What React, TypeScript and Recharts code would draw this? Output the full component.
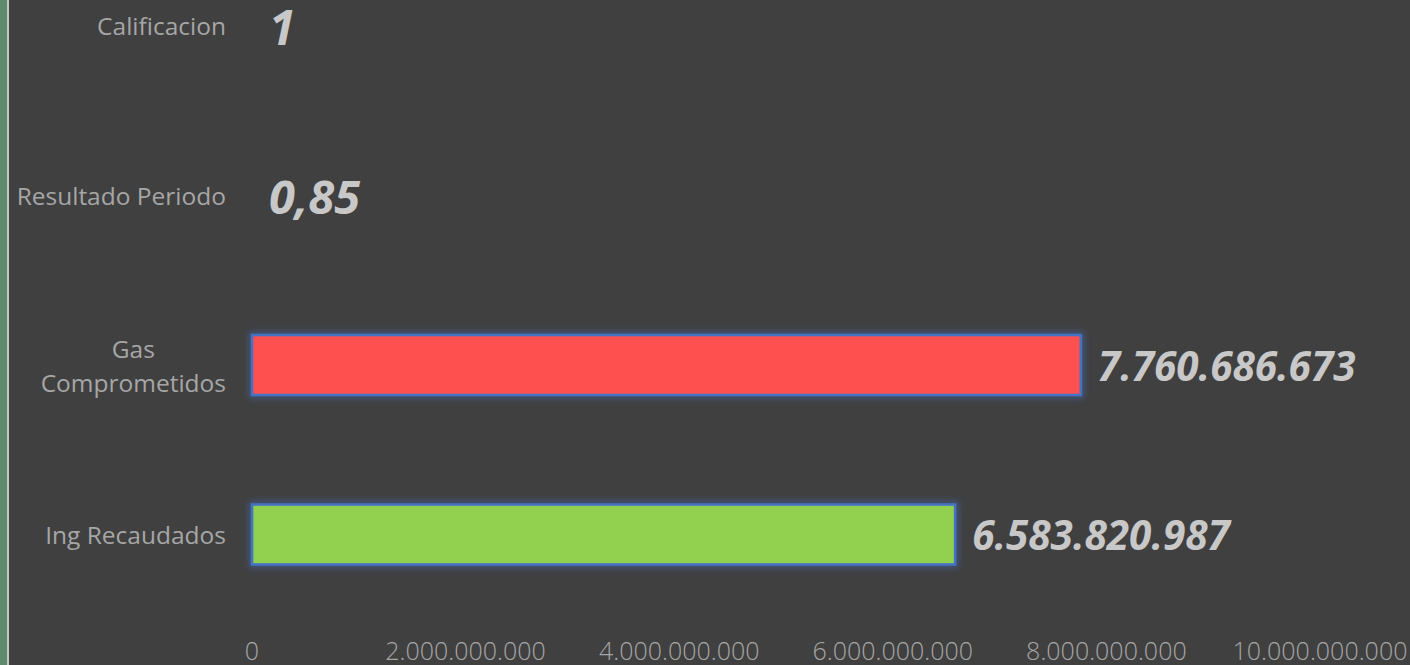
import { Bar, BarChart, Cell, LabelList, XAxis, YAxis } from "recharts";

const categories = [
  "Calificacion",
  "Resultado Periodo",
  "Gas Comprometidos",
  "Ing Recaudados",
];
const values = [1, 0.85, 7760686673, 6583820987];
const barColors = ["#FF5050", "#FF5050", "#FF5050", "#92D050"];
const labelSizes = [48, 47, 40.5, 40.5];
const xTicks = [0, 2000000000, 4000000000, 6000000000, 8000000000, 10000000000];

const data = categories.map((name, i) => ({ name, value: values[i] }));

const FONT = "'Open Sans', 'Noto Sans', sans-serif";

// excel style: 7.760.686.673 / 0,85
function fmt(v: number) {
  if (Number.isInteger(v)) {
    return String(v).replace(/\B(?=(\d{3})+(?!\d))/g, ".");
  }
  return String(v).replace(".", ",");
}

let ctx: CanvasRenderingContext2D | null = null;
function textWidth(s: string, font: string) {
  if (!ctx) ctx = document.createElement("canvas").getContext("2d");
  if (!ctx) return s.length * 12;
  ctx.font = font;
  return ctx.measureText(s).width;
}

function CategoryTick(props: any) {
  const { x, y, payload } = props;
  const font = "24.5px 'Open Sans'";
  const label: string = payload.value;
  let lines = [label];
  if (textWidth(label, font) > 220) {
    // wrap like excel does
    const words = label.split(" ");
    lines = [];
    let cur = "";
    words.forEach((w) => {
      const next = cur ? cur + " " + w : w;
      if (cur && textWidth(next, font) > 220) {
        lines.push(cur);
        cur = w;
      } else cur = next;
    });
    if (cur) lines.push(cur);
  }
  if (lines.length === 1) {
    return (
      <text x={x} y={y} textAnchor="end" dominantBaseline="central" fill="#a6a6a6" fontSize={24.5} fontFamily={FONT}>
        {label}
      </text>
    );
  }
  const maxW = Math.max(...lines.map((l) => textWidth(l, font)));
  const lh = 34;
  const top = y - ((lines.length - 1) * lh) / 2;
  return (
    <text textAnchor="middle" dominantBaseline="central" fill="#a6a6a6" fontSize={24.5} fontFamily={FONT}>
      {lines.map((l, i) => (
        <tspan key={i} x={x - maxW / 2} y={top + i * lh}>
          {l}
        </tspan>
      ))}
    </text>
  );
}

function GlowBar(props: any) {
  const { x, y, width, height, fill } = props;
  if (!width || width < 1) return <g />;
  return (
    <g>
      <rect x={x} y={y} width={width} height={height} fill="none" stroke="#4472C4" strokeWidth={7} strokeOpacity={0.45} filter="url(#barGlow)" />
      <rect x={x} y={y} width={width} height={height} fill={fill} stroke="#4472C4" strokeWidth={2.6} />
    </g>
  );
}

function ValueLabel(props: any) {
  const { x, y, width, height, value, index } = props;
  return (
    <text
      x={x + width + 17}
      y={y + height / 2}
      dominantBaseline="central"
      fill="#c8c8c8"
      fontSize={labelSizes[index]}
      fontWeight={700}
      fontStyle="italic"
      fontFamily={FONT}
    >
      {fmt(value)}
    </text>
  );
}

export default function App() {
  return (
    <div
      style={{
        position: "absolute",
        left: 0,
        top: 0,
        width: 1410,
        height: 665,
        overflow: "hidden",
        background: "#404040",
      }}
    >
      <div style={{ position: "absolute", left: 0, top: 0, width: 7, height: 665, background: "#5e8a6c" }} />
      <div style={{ position: "absolute", left: 7, top: 0, width: 2, height: 665, background: "#c4c4c4" }} />
      <div style={{ position: "absolute", left: 0, top: -59 }}>
        <BarChart
          width={1410}
          height={738}
          data={data}
          layout="vertical"
          margin={{ top: 0, right: 90, bottom: 0, left: 0 }}
          barSize={60}
        >
          <defs>
            <filter id="barGlow" x="-20%" y="-50%" width="140%" height="200%">
              <feGaussianBlur stdDeviation="3" />
            </filter>
          </defs>
          <XAxis
            type="number"
            domain={[0, 10000000000]}
            ticks={xTicks}
            interval={0}
            height={60}
            axisLine={false}
            tickLine={false}
            tickSize={0}
            tickMargin={23}
            tickFormatter={(v) => fmt(v)}
            tick={{ fill: "#a6a6a6", fontSize: 25, fontFamily: FONT, fontWeight: 300 }}
          />
          <YAxis
            type="category"
            dataKey="name"
            width={252}
            axisLine={false}
            tickLine={false}
            tickSize={0}
            tickMargin={26}
            interval={0}
            tick={<CategoryTick />}
          />
          <Bar dataKey="value" isAnimationActive={false} shape={<GlowBar />}>
            {data.map((d, i) => (
              <Cell key={d.name} fill={barColors[i]} />
            ))}
            <LabelList dataKey="value" content={<ValueLabel />} />
          </Bar>
        </BarChart>
      </div>
    </div>
  );
}
